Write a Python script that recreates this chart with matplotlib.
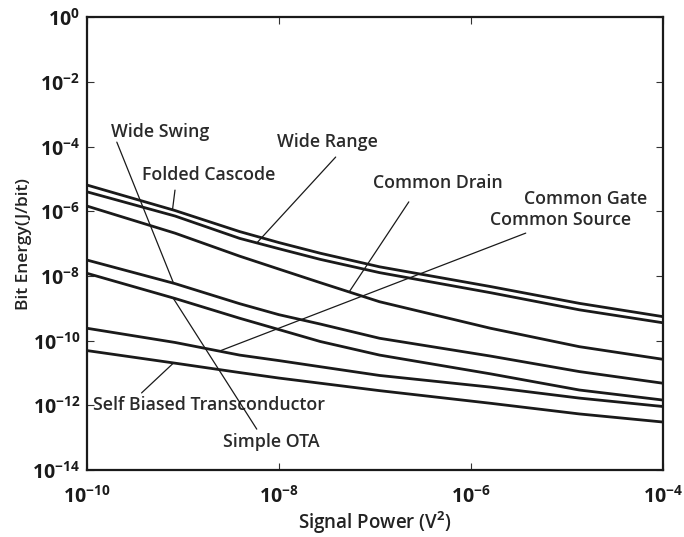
import numpy as np
import matplotlib
matplotlib.use("Agg")
import matplotlib.pyplot as plt
from matplotlib.ticker import FixedLocator, FuncFormatter, NullLocator

plt.rcParams['font.family'] = ['Open Sans', 'DejaVu Sans']
plt.rcParams['mathtext.fontset'] = 'custom'
plt.rcParams['mathtext.rm'] = 'Open Sans:bold'
plt.rcParams['mathtext.it'] = 'Open Sans:bold'
plt.rcParams['mathtext.bf'] = 'Open Sans:bold'

# signal power samples (V^2)
signal_power = [1e-10, 8.3e-10, 3.9e-9, 1e-8, 2.7e-8, 1.12e-7, 1.6e-6, 1.35e-5, 1e-4]

curve_1 = [-5.19, -5.98, -6.63, -6.97, -7.30, -7.72, -8.33, -8.85, -9.26]     # Folded Cascode
curve_2 = [-5.40, -6.15, -6.84, -7.16, -7.49, -7.90, -8.52, -9.05, -9.45]     # Wide Range
curve_3 = [-5.84, -6.68, -7.39, -7.79, -8.21, -8.80, -9.62, -10.19, -10.58]   # Common Drain
curve_4 = [-7.51, -8.24, -8.86, -9.20, -9.49, -9.93, -10.48, -10.96, -11.32]  # Wide Swing
curve_5 = [-7.92, -8.70, -9.31, -9.66, -10.03, -10.45, -11.03, -11.53, -11.84] # Simple OTA
curve_6 = [-9.62, -10.06, -10.45, -10.62, -10.81, -11.08, -11.44, -11.78, -12.04] # Common Gate / Source
curve_7 = [-10.31, -10.70, -10.99, -11.16, -11.32, -11.55, -11.94, -12.27, -12.52] # Self Biased

curves = [curve_1, curve_2, curve_3, curve_4, curve_5, curve_6, curve_7]

xticks = [1e-10, 1e-8, 1e-6, 1e-4]
yticks = [1e0, 1e-2, 1e-4, 1e-6, 1e-8, 1e-10, 1e-12, 1e-14]

# label text, text position (axes fraction), leader start (axes fraction),
# curve index and signal power where the leader meets the curve
labels = [
    ("Wide Swing", (0.127, 0.747), (0.052, 0.724), 3, 8.0e-10),
    ("Folded Cascode", (0.212, 0.651), (0.153, 0.618), 0, 7.8e-10),
    ("Wide Range", (0.418, 0.725), (0.432, 0.691), 1, 5.9e-9),
    ("Common Drain", (0.609, 0.634), (0.559, 0.592), 2, 5.4e-8),
    ("Common Gate", (0.866, 0.598), None, None, None),
    ("Common Source", (0.823, 0.552), (0.762, 0.523), 5, 2.4e-9),
    ("Self Biased Transconductor", (0.212, 0.143), (0.095, 0.170), 6, 8.0e-10),
    ("Simple OTA", (0.321, 0.062), (0.295, 0.090), 4, 7.9e-10),
]

fig = plt.figure(figsize=(6.84, 5.37), dpi=100)
ax = fig.add_axes([0.127, 0.125, 0.842, 0.843])

x = np.array(signal_power)
for c in curves:
    ax.plot(x, 10.0 ** np.array(c), color='#1a1a1a', lw=2.0,
            solid_joinstyle='round')

ax.set_xscale('log')
ax.set_yscale('log')
ax.set_xlim(1e-10, 1e-4)
ax.set_ylim(1e-14, 1e0)

ax.xaxis.set_major_locator(FixedLocator(xticks))
ax.yaxis.set_major_locator(FixedLocator(yticks))
ax.xaxis.set_minor_locator(NullLocator())
ax.yaxis.set_minor_locator(NullLocator())
fmt = FuncFormatter(lambda v, p: r'$10^{%d}$' % int(round(np.log10(v))))
ax.xaxis.set_major_formatter(fmt)
ax.yaxis.set_major_formatter(fmt)
ax.tick_params(which='both', direction='in', top=True, right=True, length=5,
               width=0.8, labelsize=14, color='#333333', labelcolor='#1a1a1a')
ax.tick_params(axis='x', pad=11)
ax.tick_params(axis='y', pad=5)
for s in ax.spines.values():
    s.set_linewidth(1.6)
    s.set_color('#1a1a1a')

ax.set_xlabel(r'Signal Power (V$^{2}$)', fontsize=13.5, fontweight='semibold',
              labelpad=2, color='#222222')
ax.set_ylabel('Bit Energy(J/bit)', fontsize=12.5, fontweight='semibold',
              labelpad=0, color='#222222')

for text, tpos, lstart, ci, xp in labels:
    ax.text(tpos[0], tpos[1], text, transform=ax.transAxes, ha='center', va='center',
            fontsize=12.8, fontweight='semibold', color='#2a2a2a')
    if lstart is None:
        continue
    yp = 10.0 ** np.interp(np.log10(xp), np.log10(x), curves[ci])
    ax.annotate('', xy=(xp, yp), xycoords='data', xytext=lstart,
                textcoords='axes fraction',
                arrowprops=dict(arrowstyle='-', color='#1a1a1a', lw=0.9,
                                shrinkA=0, shrinkB=0))

fig.savefig('out.png', dpi=100)
